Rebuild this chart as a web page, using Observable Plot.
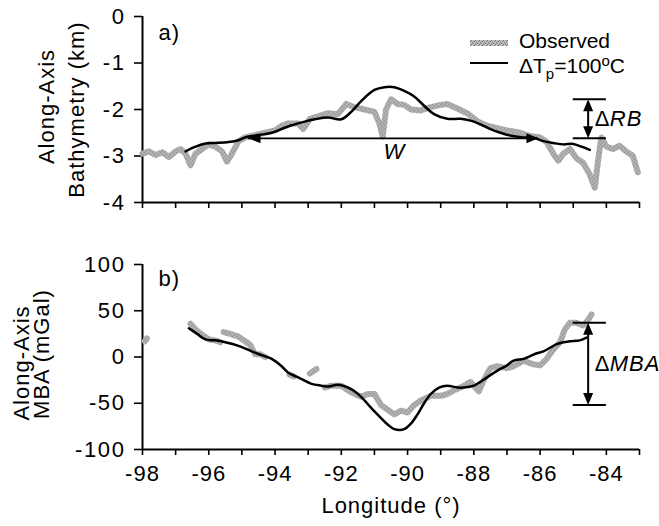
<!DOCTYPE html>
<html>
<head>
<meta charset="utf-8">
<script src="https://cdn.jsdelivr.net/npm/d3@7"></script>
<script src="https://cdn.jsdelivr.net/npm/@observablehq/plot@0.6"></script>
<style>
  html, body { margin: 0; padding: 0; background: white; }
  #wrap { position: relative; width: 659px; height: 526px; overflow: hidden; font-family: "Liberation Sans", Arial, Helvetica, sans-serif; }
  #wrap svg.plot { display: block; }
  #wrap g[aria-label="y-axis tick label"] text { letter-spacing: 1.6px; }
  .leg { position: absolute; font-size: 21px; line-height: 18px; white-space: nowrap; color: black; }
</style>
</head>
<body>
<svg width="0" height="0" style="position:absolute">
  <defs>
    <pattern id="speckle" patternUnits="userSpaceOnUse" width="4" height="4">
      <rect width="4" height="4" fill="#bdbdbd"/>
      <rect x="0" y="0" width="1" height="1" fill="#6a6a6a"/>
      <rect x="2" y="1" width="1" height="1" fill="#7a7a7a"/>
      <rect x="1" y="2" width="1" height="1" fill="#6a6a6a"/>
      <rect x="3" y="3" width="1" height="1" fill="#7a7a7a"/>
    </pattern>
  </defs>
</svg>
<div id="wrap"></div>
<script>
// ---------- data ----------
const lonDomain = [-98, -83];
const lonTicks = [-98, -97, -96, -95, -94, -93, -92, -91, -90, -89, -88, -87, -86, -85, -84, -83];
const lonLabelTicks = [-98, -96, -94, -92, -90, -88, -86, -84];
const depthDomain = [-4, 0];
const depthTicks = [0, -1, -2, -3, -4];
const mbaDomain = [-100, 100];
const mbaTicks = [100, 50, 0, -50, -100];

// (a) observed along-axis bathymetry (km)
const obsBathyLon = [-98.0, -97.8, -97.6, -97.4, -97.2, -97.0, -96.85, -96.7, -96.55, -96.4, -96.2, -96.0, -95.8, -95.6, -95.45, -95.3, -95.1, -94.9, -94.6, -94.3, -94.0, -93.8, -93.6, -93.3, -93.15, -92.95, -92.7, -92.4, -92.1, -91.85, -91.6, -91.3, -91.0, -90.85, -90.75, -90.65, -90.5, -90.3, -90.1, -89.9, -89.6, -89.3, -89.0, -88.8, -88.5, -88.2, -87.9, -87.6, -87.3, -87.0, -86.6, -86.3, -86.0, -85.8, -85.6, -85.45, -85.3, -85.1, -84.9, -84.7, -84.5, -84.35, -84.25, -84.15, -84.0, -83.8, -83.6, -83.4, -83.2, -83.05];
const obsBathyDepth = [-2.95, -2.9, -2.98, -2.92, -3.02, -2.9, -2.85, -2.95, -3.2, -2.95, -2.85, -2.75, -2.8, -2.9, -3.12, -2.95, -2.68, -2.6, -2.55, -2.5, -2.45, -2.35, -2.3, -2.3, -2.42, -2.2, -2.15, -2.08, -2.1, -1.88, -1.95, -2.0, -2.05, -2.3, -2.58, -2.0, -1.78, -1.88, -1.9, -2.0, -2.02, -1.95, -1.9, -1.88, -1.98, -2.08, -2.25, -2.35, -2.4, -2.45, -2.5, -2.57, -2.6, -2.7, -2.95, -3.1, -2.95, -2.85, -3.05, -3.15, -3.4, -3.68, -3.1, -2.6, -2.8, -2.85, -2.78, -2.9, -3.0, -3.35];

// (a) model, ΔTp = 100 °C
const modelBathyLon = [-96.7, -96.4, -96.1, -95.8, -95.4, -95.1, -94.9, -94.5, -94.1, -93.8, -93.5, -93.1, -92.8, -92.4, -92.0, -91.7, -91.4, -91.0, -90.7, -90.4, -90.1, -89.8, -89.5, -89.2, -88.8, -88.4, -88.1, -87.8, -87.5, -87.2, -86.9, -86.5, -86.2, -85.9, -85.6, -85.3, -85.0, -84.75, -84.5];
const modelBathyDepth = [-2.9, -2.8, -2.73, -2.72, -2.7, -2.66, -2.6, -2.55, -2.5, -2.42, -2.34, -2.26, -2.21, -2.17, -2.21, -2.05, -1.82, -1.58, -1.52, -1.52, -1.6, -1.72, -1.92, -2.1, -2.2, -2.2, -2.24, -2.32, -2.42, -2.5, -2.56, -2.6, -2.61, -2.68, -2.72, -2.75, -2.74, -2.8, -2.87];

// (b) observed along-axis MBA (mGal); NaN marks data gaps
const obsMbaLon = [-97.93, -97.87, NaN, -96.55, -96.4, -96.2, -96.0, -95.8, -95.65, NaN, -95.55, -95.35, -95.1, -94.9, -94.75, -94.6, -94.45, -94.3, NaN, -93.56, -93.44, NaN, -92.95, -92.75, NaN, -92.5, -92.3, -92.0, -91.8, -91.6, -91.4, -91.2, -91.0, -90.8, -90.6, -90.4, -90.2, -90.0, -89.8, -89.6, -89.3, -89.0, -88.8, -88.6, -88.4, -88.1, -87.95, -87.85, -87.7, -87.5, -87.3, -87.0, -86.8, -86.5, -86.2, -86.0, -85.8, -85.6, -85.4, -85.25, -85.1, -84.9, -84.7, -84.55, -84.45];
const obsMbaVal = [17, 20, NaN, 36, 30, 24, 19, 18, 16, NaN, 27, 25, 22, 17, 13, 3, 3, 0, NaN, -19, -21, NaN, -18, -13, NaN, -33, -31, -31, -36, -40, -43, -40, -40, -52, -57, -62, -58, -60, -52, -47, -42, -42, -40, -36, -33, -27, -33, -37, -25, -12, -10, -12, -10, -4, -8, -9, -2, 8, 16, 30, 37, 37, 34, 40, 46];

// (b) model MBA
const modelMbaLon = [-96.6, -96.35, -96.1, -95.8, -95.5, -95.1, -94.7, -94.4, -94.1, -93.8, -93.6, -93.3, -92.9, -92.6, -92.4, -92.1, -91.8, -91.6, -91.35, -91.1, -90.8, -90.6, -90.4, -90.1, -89.9, -89.7, -89.5, -89.3, -89.05, -88.8, -88.5, -88.3, -88.0, -87.9, -87.6, -87.3, -87.0, -86.8, -86.5, -86.3, -86.1, -85.9, -85.7, -85.5, -85.3, -85.1, -84.8, -84.6];
const modelMbaVal = [31, 25, 19, 18, 16, 12, 6, 2, -2, -10, -17, -22, -29, -31, -32, -30, -33, -37, -45, -55, -66, -73, -78, -78, -72, -62, -50, -40, -33, -31, -33, -33, -31, -29, -22, -15, -9, -4, -2, 1, 4, 6, 10, 14, 16, 17, 18, 21];

// annotations
const wArrowLon = [-94.8, -86.05];
const wArrowDepth = [-2.62];
const wLabelPos = [-90.4, -2.92];
const rbLevels = [-1.78, -2.62];
const mbaLevels = [37, -52];
const barLon = [-85.0, -84.0];
const arrowLon = [-84.55];
const deltaLabelLon = [-84.35];
const rbLabelDepth = [-2.2];
const mbaLabelVal = [-7];

// ---------- drawing ----------
const FONT = '"Liberation Sans", Arial, Helvetica, sans-serif';
const baseStyle = {fontFamily: FONT, fontSize: "22px", color: "black", background: "white", overflow: "visible", letterSpacing: "1px"};

function tri(dir) {
  // filled arrowhead with its tip at the anchor point
  const L = 12, W = 10;
  return {draw(ctx) {
    if (dir === "right") { ctx.moveTo(0, 0); ctx.lineTo(-L, -W / 2); ctx.lineTo(-L, W / 2); }
    if (dir === "left")  { ctx.moveTo(0, 0); ctx.lineTo(L, -W / 2); ctx.lineTo(L, W / 2); }
    if (dir === "up")    { ctx.moveTo(0, 0); ctx.lineTo(-W / 2, L); ctx.lineTo(W / 2, L); }
    if (dir === "down")  { ctx.moveTo(0, 0); ctx.lineTo(-W / 2, -L); ctx.lineTo(W / 2, -L); }
    ctx.closePath();
  }};
}

function verticalDelta(levels) {
  return [
    Plot.ruleY(levels, {x1: barLon[0], x2: barLon[1], stroke: "black", strokeWidth: 2}),
    Plot.ruleX(arrowLon, {y1: levels[0], y2: levels[1], stroke: "black", strokeWidth: 2, insetTop: 8, insetBottom: 8}),
    Plot.dot(arrowLon, {x: d => d, y: () => levels[0], symbol: tri("up"), fill: "black", stroke: "none", r: 5}),
    Plot.dot(arrowLon, {x: d => d, y: () => levels[1], symbol: tri("down"), fill: "black", stroke: "none", r: 5})
  ];
}

const topChart = Plot.plot({
  width: 659, height: 232,
  marginLeft: 142, marginRight: 20, marginTop: 16, marginBottom: 30,
  x: {domain: lonDomain},
  y: {domain: depthDomain},
  style: baseStyle,
  marks: [
    Plot.axisY({ticks: depthTicks, tickSize: 8, tickPadding: 9, tickFormat: d => String(d), label: null, strokeWidth: 1.6}),
    Plot.axisX({ticks: lonTicks, tickSize: 6, tickFormat: () => "", label: null, strokeWidth: 1.6}),
    Plot.ruleX([lonDomain[0]], {stroke: "black", strokeWidth: 2}),
    Plot.ruleY([depthDomain[0]], {stroke: "black", strokeWidth: 2}),
    Plot.line(obsBathyDepth, {x: obsBathyLon, y: obsBathyDepth, stroke: "url(#speckle)", strokeWidth: 6, strokeLinejoin: "round", strokeLinecap: "round"}),
    Plot.line(modelBathyDepth, {x: modelBathyLon, y: modelBathyDepth, stroke: "black", strokeWidth: 2.5, curve: "catmull-rom", strokeLinejoin: "round"}),
    Plot.ruleY(wArrowDepth, {x1: wArrowLon[0], x2: wArrowLon[1], stroke: "black", strokeWidth: 1.8}),
    Plot.dot(wArrowDepth, {x: () => wArrowLon[0], y: d => d, symbol: tri("left"), fill: "black", stroke: "none", r: 5}),
    Plot.dot(wArrowDepth, {x: () => wArrowLon[1], y: d => d, symbol: tri("right"), fill: "black", stroke: "none", r: 5}),
    Plot.text(["W"], {x: () => wLabelPos[0], y: () => wLabelPos[1], fontStyle: "italic", textAnchor: "middle", lineAnchor: "middle"}),
    ...verticalDelta(rbLevels),
    Plot.text(["Δ"], {x: () => deltaLabelLon[0], y: () => rbLabelDepth[0], textAnchor: "start", lineAnchor: "middle"}),
    Plot.text(["RB"], {x: () => deltaLabelLon[0], y: () => rbLabelDepth[0], dx: 15, fontStyle: "italic", textAnchor: "start", lineAnchor: "middle"}),
    Plot.text(["a)"], {frameAnchor: "top-left", dx: 16, dy: 16, textAnchor: "start", lineAnchor: "middle"}),
    Plot.text(["Along-Axis"], {frameAnchor: "left", rotate: -90, dx: -96, dy: -3, textAnchor: "middle", lineAnchor: "middle"}),
    Plot.text(["Bathymetry (km)"], {frameAnchor: "left", rotate: -90, dx: -66, dy: 0, textAnchor: "middle", lineAnchor: "middle"})
  ]
});

const bottomChart = Plot.plot({
  width: 659, height: 294,
  marginLeft: 142, marginRight: 20, marginTop: 32, marginBottom: 77,
  x: {domain: lonDomain},
  y: {domain: mbaDomain},
  style: baseStyle,
  marks: [
    Plot.axisY({ticks: mbaTicks, tickSize: 8, tickPadding: 9, tickFormat: d => String(d), label: null, strokeWidth: 1.6}),
    Plot.axisX({ticks: lonTicks, tickSize: 6, tickFormat: () => "", label: null, strokeWidth: 1.6}),
    Plot.axisX({ticks: lonLabelTicks, tickSize: 0, tickPadding: 16, tickFormat: d => String(d), label: null}),
    Plot.ruleX([lonDomain[0]], {stroke: "black", strokeWidth: 2}),
    Plot.ruleY([mbaDomain[0]], {stroke: "black", strokeWidth: 2}),
    Plot.line(obsMbaVal, {x: obsMbaLon, y: obsMbaVal, stroke: "url(#speckle)", strokeWidth: 6, strokeLinejoin: "round", strokeLinecap: "round"}),
    Plot.line(modelMbaVal, {x: modelMbaLon, y: modelMbaVal, stroke: "black", strokeWidth: 2.5, curve: "catmull-rom", strokeLinejoin: "round"}),
    ...verticalDelta(mbaLevels),
    Plot.text(["Δ"], {x: () => deltaLabelLon[0], y: () => mbaLabelVal[0], textAnchor: "start", lineAnchor: "middle"}),
    Plot.text(["MBA"], {x: () => deltaLabelLon[0], y: () => mbaLabelVal[0], dx: 15, fontStyle: "italic", textAnchor: "start", lineAnchor: "middle"}),
    Plot.text(["b)"], {frameAnchor: "top-left", dx: 16, dy: 14, textAnchor: "start", lineAnchor: "middle"}),
    Plot.text(["Along-Axis"], {frameAnchor: "left", rotate: -90, dx: -121, dy: 6, textAnchor: "middle", lineAnchor: "middle"}),
    Plot.text(["MBA (mGal)"], {frameAnchor: "left", rotate: -90, dx: -101, dy: -3, textAnchor: "middle", lineAnchor: "middle"}),
    Plot.text(["Longitude (°)"], {frameAnchor: "bottom", dy: 56, textAnchor: "middle", lineAnchor: "middle"})
  ]
});

const wrap = document.getElementById("wrap");
wrap.appendChild(topChart);
wrap.appendChild(bottomChart);

// legend (HTML, over the top panel)
const sw1 = document.createElementNS("http://www.w3.org/2000/svg", "svg");
sw1.setAttribute("width", 40); sw1.setAttribute("height", 8);
sw1.style.position = "absolute"; sw1.style.left = "469px"; sw1.style.top = "39px";
sw1.innerHTML = '<rect x="1" y="1" width="38" height="6" fill="url(#speckle)"/>';
const sw2 = document.createElementNS("http://www.w3.org/2000/svg", "svg");
sw2.setAttribute("width", 40); sw2.setAttribute("height", 6);
sw2.style.position = "absolute"; sw2.style.left = "469px"; sw2.style.top = "60px";
sw2.innerHTML = '<line x1="1" x2="39" y1="3" y2="3" stroke="black" stroke-width="2"/>';
const t1 = document.createElement("div");
t1.className = "leg"; t1.style.left = "519px"; t1.style.top = "32px";
t1.textContent = "Observed";
const t2 = document.createElement("div");
t2.className = "leg"; t2.style.left = "519px"; t2.style.top = "57px";
t2.innerHTML = 'ΔT<span style="font-size:15px;line-height:0;position:relative;top:6px">p</span>=100<span style="font-size:15px;line-height:0;position:relative;top:-7px">o</span>C';
wrap.appendChild(sw1); wrap.appendChild(sw2); wrap.appendChild(t1); wrap.appendChild(t2);
</script>
</body>
</html>
